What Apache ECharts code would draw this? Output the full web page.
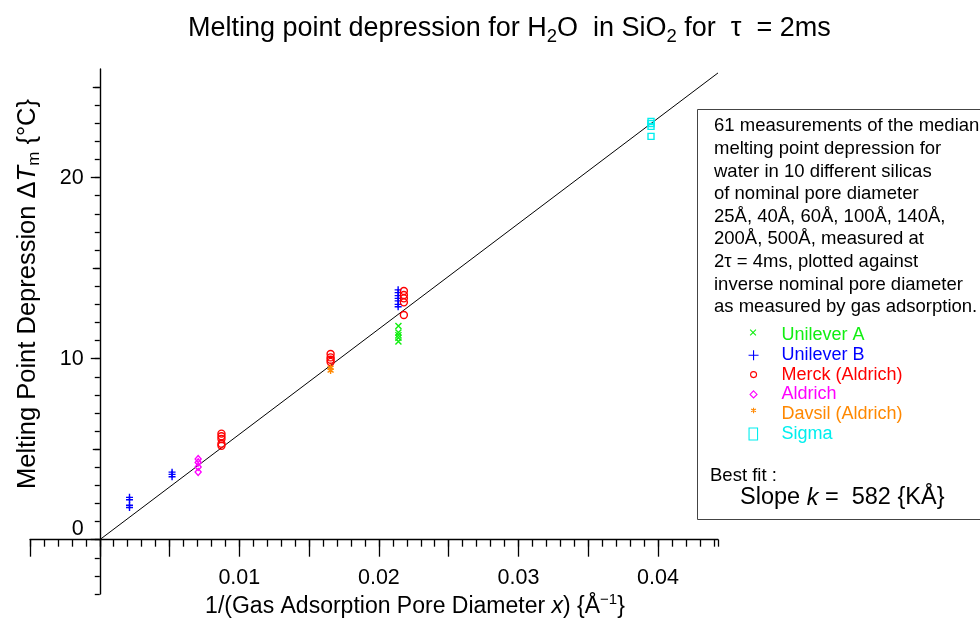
<!DOCTYPE html>
<html>
<head>
<meta charset="utf-8">
<script src="https://cdn.jsdelivr.net/npm/echarts@6/dist/echarts.min.js"></script>
<style>
  html, body { margin: 0; padding: 0; background: #ffffff; }
  #chart { width: 980px; height: 623px; }
</style>
</head>
<body>
<div id="chart"></div>
<script>
// Median melting point depression of water in porous silicas vs inverse pore diameter
const FONT = '"Liberation Sans", Arial, Helvetica, sans-serif';

// [1/d (Å^-1), ΔTm (°C)]
const unileverA = [[0.0214, 11.8], [0.0214, 11.45], [0.0214, 11.3], [0.0214, 11.15], [0.0214, 10.95]];
const unileverB = [
  [0.00213, 2.34], [0.00213, 2.21], [0.00213, 1.9], [0.00213, 1.78],
  [0.00518, 3.73], [0.00518, 3.61], [0.00518, 3.48],
  [0.02138, 13.8], [0.02138, 13.65], [0.02138, 13.48], [0.02138, 13.33], [0.02138, 13.19], [0.02138, 13.0], [0.02138, 12.87]
];
const merck = [
  [0.00872, 5.86], [0.00872, 5.71], [0.00872, 5.56], [0.00872, 5.3], [0.00872, 5.19],
  [0.01654, 10.26], [0.01654, 10.07], [0.01654, 9.94], [0.01654, 9.82],
  [0.02179, 13.74], [0.02179, 13.52], [0.02179, 13.33], [0.02179, 13.11], [0.02179, 12.41]
];
const aldrich = [[0.00705, 4.46], [0.00705, 4.27], [0.00705, 4.02], [0.00705, 3.74]];
const davsil = [[0.01654, 9.5], [0.01654, 9.34]];
const sigma = [[0.0395, 23.1], [0.0395, 22.98], [0.0395, 22.83], [0.0395, 22.28]];

const seriesNames = ['Unilever A', 'Unilever B', 'Merck (Aldrich)', 'Aldrich', 'Davsil (Aldrich)', 'Sigma'];
const seriesColors = ['#11ee11', '#0000ff', '#ff0000', '#ff00ff', '#ff8800', '#00eeee'];

// Best fit through the origin: ΔTm = k / d
const slopeK = 582; // K·Å

// Axis ranges and ticks
const xMin = -0.005, xMax = 0.0443;
const yMin = -3, yMax = 26;
const xMajorTicks = [-0.005, 0, 0.005, 0.01, 0.015, 0.02, 0.025, 0.03, 0.035, 0.04];
const xTickLabels = [0.01, 0.02, 0.03, 0.04];
const yMinorTicks = [-3, -2, -1, 0, 1, 2, 3, 4, 5, 6, 7, 8, 9, 10, 11, 12, 13, 14, 15, 16, 17, 18, 19, 20, 21, 22, 23, 24, 25];
const yMidTicks = [5, 15, 25];
const yTickLabels = [0, 10, 20];

const descriptionLines = [
  '61 measurements of the median',
  'melting point depression for',
  'water in 10 different silicas',
  'of nominal pore diameter',
  '25Å, 40Å, 60Å, 100Å, 140Å,',
  '200Å, 500Å, measured at',
  '2τ = 4ms, plotted against',
  'inverse nominal pore diameter',
  'as measured by gas adsorption.'
];

// marker shapes (data points) and matching legend icons drawn in a 14x14 box
const pointSymbols = [
  'path://M0,0L10,10M10,0L0,10',
  'path://M0,5L10,5M5,0L5,10',
  'circle',
  'diamond',
  'path://M5,0L5,10M0.7,2.5L9.3,7.5M9.3,2.5L0.7,7.5',
  'rect'
];
const pointSizes = [6, 7, 7, [6, 7], 7, 6];
const legendIcons = [
  'path://M0,0M14,14M3.6,1.6L9.4,7.4M9.4,1.6L3.6,7.4',
  'path://M0,0M14,14M2,7.5L12,7.5M7,2.5L7,12.5',
  'path://M0,0M14,14M10,7A3,3,0,1,1,4,7A3,3,0,1,1,10,7Z',
  'path://M0,0M14,14M7,3.5L10.5,7L7,10.5L3.5,7Z',
  'path://M0,0M14,14M7,0.5L7,6M4.6,1.9L9.4,4.6M9.4,1.9L4.6,4.6',
  'path://M0,0M14,14M2.5,1L11,1L11,13L2.5,13Z'
];

const seriesData = [unileverA, unileverB, merck, aldrich, davsil, sigma];

// plot area
const GRID = { left: 30, right: 262, top: 69, bottom: 29 };
const W = 980, H = 623;
const gridW = W - GRID.left - GRID.right;
const gridH = H - GRID.top - GRID.bottom;
// distance from the grid edges to the zero lines, used to place the extra tick axes
const yZeroFromBottom = gridH * (0 - yMin) / (yMax - yMin);
const xZeroFromLeft = gridW * (0 - xMin) / (xMax - xMin);

const scatterSeries = seriesData.map((d, i) => ({
  name: seriesNames[i],
  type: 'scatter',
  data: d,
  symbol: pointSymbols[i],
  symbolSize: pointSizes[i],
  symbolKeepAspect: true,
  itemStyle: { color: 'rgba(0,0,0,0)', borderColor: seriesColors[i], borderWidth: 1.4, opacity: 1 },
  emphasis: { disabled: true },
  z: 3
}));

const fitSeries = {
  name: 'fit',
  type: 'line',
  data: [[0, 0], [xMax, slopeK * xMax]],
  showSymbol: false,
  symbol: 'none',
  lineStyle: { color: '#000', width: 1 },
  emphasis: { disabled: true },
  silent: true,
  z: 2
};

const axisLineStyle = { color: '#000', width: 1.4 };
const tickStyle = { color: '#000', width: 1.3 };
const baseText = { fontFamily: FONT, color: '#000' };

const chart = echarts.init(document.getElementById('chart'), null, { renderer: 'canvas' });

chart.setOption({
  animation: false,
  backgroundColor: '#ffffff',
  title: {
    text: 'Melting point depression for H{sub|2}O  in SiO{sub|2} for  τ  = 2ms',
    left: 183,
    top: 6,
    textStyle: {
      fontFamily: FONT, fontSize: 27, fontWeight: 'normal', color: '#000',
      rich: { sub: { fontFamily: FONT, fontSize: 18.5, color: '#000', padding: [16, 0, 0, 0] } }
    }
  },
  grid: Object.assign({ containLabel: false, outerBoundsMode: 'none' }, GRID),
  legend: {
    data: seriesNames.map((n, i) => ({ name: n, icon: legendIcons[i], textStyle: { color: seriesColors[i] } })),
    orient: 'vertical',
    left: 741,
    top: 321,
    itemWidth: 14,
    itemHeight: 14,
    itemGap: 1.8,
    symbolKeepAspect: true,
    selectedMode: false,
    itemStyle: { borderWidth: 1.1 },
    textStyle: { fontFamily: FONT, fontSize: 18, padding: [0, 0, 0, 16] }
  },
  xAxis: [
    {
      type: 'value', position: 'bottom',
      min: xMin, max: xMax, interval: 0.001,
      axisLine: { show: true, onZero: true, lineStyle: axisLineStyle },
      axisTick: { show: true, inside: false, length: 7, lineStyle: tickStyle },
      axisLabel: { show: false },
      splitLine: { show: false }
    },
    {
      type: 'value', position: 'bottom',
      min: xMin, max: xMax, interval: 0.005,
      offset: -yZeroFromBottom,
      axisLine: { show: false, onZero: false },
      axisTick: { show: true, inside: false, length: 17, customValues: xMajorTicks, lineStyle: tickStyle },
      axisLabel: { show: true, customValues: xTickLabels, margin: 27, ...baseText, fontSize: 21.5 },
      splitLine: { show: false }
    }
  ],
  yAxis: [
    {
      type: 'value', position: 'left',
      min: yMin, max: yMax, interval: 1,
      axisLine: { show: true, onZero: true, lineStyle: axisLineStyle },
      axisTick: { show: true, inside: false, length: 5, customValues: yMinorTicks, lineStyle: tickStyle },
      axisLabel: { show: false },
      splitLine: { show: false }
    },
    {
      type: 'value', position: 'left',
      min: yMin, max: yMax, interval: 1,
      offset: -xZeroFromLeft,
      axisLine: { show: false, onZero: false },
      axisTick: { show: true, inside: false, length: 7, customValues: yMidTicks, lineStyle: tickStyle },
      axisLabel: { show: false },
      splitLine: { show: false }
    },
    {
      type: 'value', position: 'left',
      min: yMin, max: yMax, interval: 1,
      offset: -xZeroFromLeft,
      axisLine: { show: false, onZero: false },
      axisTick: { show: true, inside: false, length: 9, customValues: yTickLabels, lineStyle: tickStyle },
      axisLabel: {
        show: true, customValues: yTickLabels, margin: 16, ...baseText, fontSize: 21.5,
        formatter: v => (v === 0 ? '{z|0}' : String(v)),
        rich: { z: { fontFamily: FONT, fontSize: 21.5, color: '#000', padding: [0, 0, 22, 0] } }
      },
      splitLine: { show: false }
    }
  ],
  series: [fitSeries, ...scatterSeries],
  graphic: [
    // axis titles
    {
      type: 'text', silent: true, x: 415, y: 607,
      style: {
        text: '1/(Gas Adsorption Pore Diameter {i|x}) {Å{sup|−1}}',
        fontFamily: FONT, fontSize: 23, fill: '#000', align: 'center', verticalAlign: 'middle',
        rich: {
          i: { fontFamily: FONT, fontSize: 23, fontStyle: 'italic', fill: '#000' },
          sup: { fontFamily: FONT, fontSize: 15, fill: '#000', padding: [0, 0, 14, 0] }
        }
      }
    },
    {
      type: 'text', silent: true, x: 28, y: 294, rotation: Math.PI / 2,
      style: {
        text: 'Melting Point Depression Δ{i|T}{sub|m} {°C}',
        fontFamily: FONT, fontSize: 25.5, fill: '#000', align: 'center', verticalAlign: 'middle',
        rich: {
          i: { fontFamily: FONT, fontSize: 25.5, fontStyle: 'italic', fill: '#000' },
          sub: { fontFamily: FONT, fontSize: 17, fill: '#000', padding: [13, 0, 0, 0] }
        }
      }
    },
    // description box
    {
      type: 'rect', silent: true, z: 1,
      shape: { x: 697.5, y: 109.5, width: 300, height: 410 },
      style: { fill: 'none', stroke: '#444', lineWidth: 1 }
    },
    {
      type: 'text', silent: true, x: 714, y: 115,
      style: {
        text: descriptionLines.join('\n'),
        fontFamily: FONT, fontSize: 18.5, lineHeight: 22.6, fill: '#000',
        align: 'left', verticalAlign: 'top'
      }
    },
    {
      type: 'text', silent: true, x: 710, y: 476,
      style: { text: 'Best fit :', fontFamily: FONT, fontSize: 18.5, fill: '#000', align: 'left', verticalAlign: 'middle' }
    },
    {
      type: 'text', silent: true, x: 740, y: 498,
      style: {
        text: 'Slope {i|k} =  ' + slopeK + ' {KÅ}',
        fontFamily: FONT, fontSize: 23.5, fill: '#000', align: 'left', verticalAlign: 'middle',
        rich: { i: { fontFamily: FONT, fontSize: 23.5, fontStyle: 'italic', fill: '#000' } }
      }
    }
  ]
});
</script>
</body>
</html>
